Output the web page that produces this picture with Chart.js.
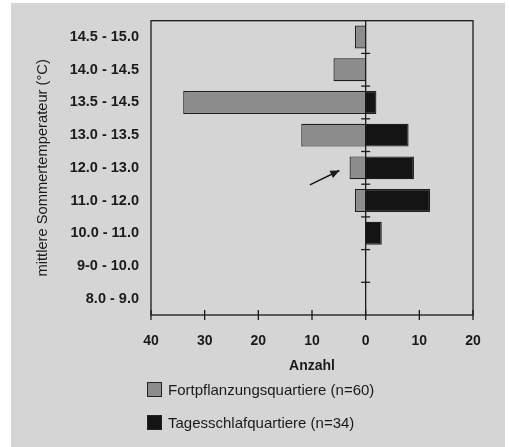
<!DOCTYPE html>
<html>
<head>
<meta charset="utf-8">
<script src="https://cdn.jsdelivr.net/npm/chart.js@4/dist/chart.umd.min.js"></script>
<style>
  html, body { margin: 0; padding: 0; background: #ffffff; }
  #panel { position: absolute; left: 11px; top: 3px; width: 494px; height: 444px; background: #d5d5d5; }
  #wrap { position: absolute; left: 0; top: 0; width: 509px; height: 447px; }
  #legend { position: absolute; left: 147px; top: 0; font-family: "Liberation Sans", Arial, sans-serif; font-size: 15px; color: #1a1a1a; }
  .item { position: absolute; left: 0; white-space: nowrap; display: flex; align-items: center; }
  .box { width: 13px; height: 13px; border: 1px solid #222; margin-right: 6px; box-sizing: content-box; }
</style>
</head>
<body>
<div id="panel"></div>
<div id="wrap"><canvas id="c" width="509" height="447"></canvas></div>
<div id="legend"></div>
<script>
const categories = ["14.5 - 15.0", "14.0 - 14.5", "13.5 - 14.5", "13.0 - 13.5", "12.0 - 13.0", "11.0 - 12.0", "10.0 - 11.0", "9-0 - 10.0", "8.0 - 9.0"];
const fortpflanzung = [2, 6, 34, 12, 3, 2, 0, 0, 0];
const tagesschlaf = [0, 0, 2, 8, 9, 12, 3, 0, 0];
const xTicks = [-40, -30, -20, -10, 0, 10, 20];
const seriesNames = ["Fortpflanzungsquartiere (n=60)", "Tagesschlafquartiere (n=34)"];
const seriesColors = ["#8d8d8d", "#141414"];

const FONT = '"Liberation Sans", Arial, sans-serif';

const framePlugin = {
  id: 'frame',
  afterDatasetsDraw(chart) {
    const ctx = chart.ctx, a = chart.chartArea;
    const xs = chart.scales.x, ys = chart.scales.y;
    ctx.save();
    ctx.strokeStyle = '#1a1a1a';
    ctx.lineWidth = 1.3;
    ctx.strokeRect(a.left, a.top, a.right - a.left, a.bottom - a.top);
    // zero line
    const x0 = xs.getPixelForValue(0);
    ctx.beginPath(); ctx.moveTo(x0, a.top); ctx.lineTo(x0, a.bottom); ctx.stroke();
    // ticks on zero line at category boundaries
    const rowH = ys.getPixelForValue(1) - ys.getPixelForValue(0);
    for (let i = 0; i < categories.length - 1; i++) {
      const y = ys.getPixelForValue(i) + rowH / 2;
      ctx.beginPath(); ctx.moveTo(x0 - 4.5, y); ctx.lineTo(x0 + 4.5, y); ctx.stroke();
    }
    // x ticks crossing bottom axis
    xTicks.forEach(v => {
      const x = xs.getPixelForValue(v);
      ctx.beginPath(); ctx.moveTo(x, a.bottom - 5); ctx.lineTo(x, a.bottom + 5); ctx.stroke();
    });
    // arrow pointing at small bar in 12.0 - 13.0
    const yc = ys.getPixelForValue(4);
    const tx = xs.getPixelForValue(-10.4), ty = yc + rowH * 0.52;
    const hx = xs.getPixelForValue(-4.9), hy = yc + rowH * 0.08;
    ctx.lineWidth = 1.6;
    ctx.beginPath(); ctx.moveTo(tx, ty); ctx.lineTo(hx, hy); ctx.stroke();
    const ang = Math.atan2(hy - ty, hx - tx);
    ctx.fillStyle = '#1a1a1a';
    ctx.beginPath();
    ctx.moveTo(hx, hy);
    ctx.lineTo(hx - 9 * Math.cos(ang) + 4 * Math.sin(ang), hy - 9 * Math.sin(ang) - 4 * Math.cos(ang));
    ctx.lineTo(hx - 9 * Math.cos(ang) - 4 * Math.sin(ang), hy - 9 * Math.sin(ang) + 4 * Math.cos(ang));
    ctx.closePath(); ctx.fill();
    ctx.restore();
  }
};

const chart = new Chart(document.getElementById('c'), {
  type: 'bar',
  data: {
    labels: categories,
    datasets: [
      { label: seriesNames[0], data: fortpflanzung.map(v => v ? -v : null), backgroundColor: seriesColors[0], borderColor: '#1e1e1e', borderWidth: 1.2, barPercentage: 0.7, categoryPercentage: 1.0 },
      { label: seriesNames[1], data: tagesschlaf.map(v => v ? v : null), backgroundColor: seriesColors[1], borderColor: '#1e1e1e', borderWidth: 1.2, barPercentage: 0.7, categoryPercentage: 1.0 }
    ]
  },
  options: {
    indexAxis: 'y',
    responsive: false,
    animation: false,
    layout: { padding: { left: 34, top: 20, right: 36, bottom: 72 } },
    plugins: { legend: { display: false }, tooltip: { enabled: false } },
    scales: {
      x: {
        stacked: true,
        min: -40, max: 20,
        afterBuildTicks(scale) { scale.ticks = xTicks.map(v => ({ value: v })); },
        afterFit(scale) { scale.height = 60; },
        grid: { display: false, drawTicks: false },
        border: { display: false },
        ticks: { color: '#1a1a1a', font: { family: FONT, size: 14, weight: 'bold' }, padding: 18, callback: v => String(Math.abs(v)) },
        title: { display: true, text: 'Anzahl', color: '#1a1a1a', font: { family: FONT, size: 14, weight: 'bold' }, padding: { top: 6, bottom: 0 } }
      },
      y: {
        stacked: true,
        afterFit(scale) { scale.width = 117; },
        grid: { display: false, drawTicks: false },
        border: { display: false },
        ticks: { color: '#1a1a1a', font: { family: FONT, size: 14.5, weight: 'bold' }, padding: 12 },
        title: { display: true, text: 'mittlere Sommertemperateur (°C)', color: '#1a1a1a', font: { family: FONT, size: 14.7 }, padding: 0 }
      }
    }
  },
  plugins: [framePlugin]
});

const legend = document.getElementById('legend');
const tops = [381, 414];
seriesNames.forEach((name, i) => {
  const it = document.createElement('div');
  it.className = 'item';
  it.style.top = tops[i] + 'px';
  const b = document.createElement('div');
  b.className = 'box';
  b.style.background = seriesColors[i];
  const t = document.createElement('span');
  t.textContent = name;
  it.appendChild(b); it.appendChild(t);
  legend.appendChild(it);
});
</script>
</body>
</html>
